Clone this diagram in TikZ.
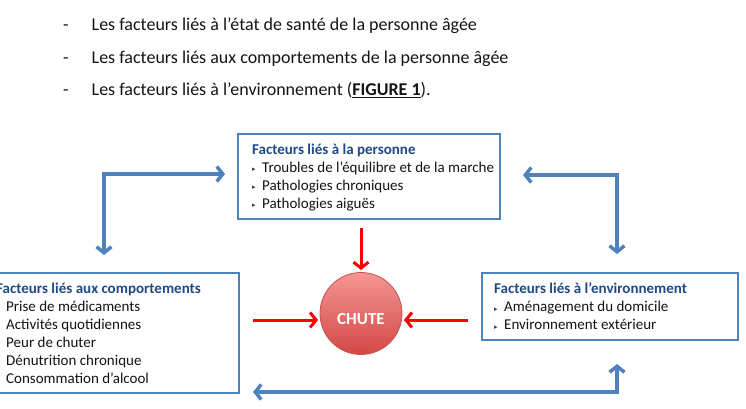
\documentclass[tikz,border=0pt]{standalone}
\usepackage{fontspec}
\setmainfont{Carlito}
\newfontfamily\dejavu{DejaVu Sans}
\usetikzlibrary{arrows.meta}
\definecolor{boxblue}{RGB}{79,129,189}
\definecolor{titleblue}{RGB}{31,73,135}
\definecolor{txt}{RGB}{20,20,20}
\definecolor{bulgray}{RGB}{60,60,60}
\definecolor{arrred}{RGB}{255,0,0}
\definecolor{ctop}{RGB}{244,150,148}
\definecolor{cbot}{RGB}{210,72,70}
\definecolor{cedge}{RGB}{200,80,77}
\newcommand\bul{\makebox[10pt][l]{\raisebox{0.5pt}{\dejavu\fontsize{7}{7}\selectfont\color{bulgray}▸}}}
\begin{document}
\begin{tikzpicture}[x=1pt,y=-1pt,
  fbox/.style={draw=boxblue, line width=1.5pt, fill=white, inner sep=0pt},
  ftitle/.style={anchor=base west, inner sep=0pt, font=\fontsize{15}{17}\selectfont\bfseries, text=titleblue},
  fitem/.style={anchor=base west, inner sep=0pt, font=\fontsize{15}{17}\selectfont, text=txt},
  body/.style={anchor=base west, inner sep=0pt, font=\fontsize{18}{21}\selectfont, text=txt},
  barrow/.style={draw=boxblue, line width=3.5pt, line join=miter,
     {Straight Barb[length=6pt,width=15pt]}-{Straight Barb[length=6pt,width=15pt]}},
  rarrow/.style={draw=arrred, line width=3pt, -{Straight Barb[length=6pt,width=15pt]}}]
\useasboundingbox (0,0) rectangle (746,409);

% intro lines
\node[body] (d1) at (63,30.7) {-};
\node[body] (t1) at (91.5,30.7) {Les facteurs liés à l’état de santé de la personne âgée};
\node[body] (d2) at (63,63.3) {-};
\node[body] (t2) at (91.5,63.3) {Les facteurs liés aux comportements de la personne âgée};
\node[body] (d3) at (63,95.7) {-};
\node[body] (t3) at (91.5,95.7) {Les facteurs liés à l’environnement (\textbf{\underline{FIGURE 1}}).};

% boxes
\node[fbox, minimum width=262pt, minimum height=85pt] (pers) at (369,176.5) {};
\node[fbox, minimum width=256pt, minimum height=120pt] (comp) at (111,333) {};
\node[fbox, minimum width=256pt, minimum height=67pt] (envi) at (610,306.5) {};

% top box text
\node[ftitle] (pt) at (252,154.3) {Facteurs liés à la personne};
\node[fitem] (p1) at (252,172.3) {\bul Troubles de l’équilibre et de la marche};
\node[fitem] (p2) at (252,190.3) {\bul Pathologies chroniques};
\node[fitem] (p3) at (252,208.3) {\bul Pathologies aiguës};

% left box text
\node[ftitle] (ct) at (-4,293.3) {Facteurs liés aux comportements};
\node[fitem] (c1) at (-4,311.7) {\bul Prise de médicaments};
\node[fitem] (c2) at (-4,329.7) {\bul Activités quotidiennes};
\node[fitem] (c3) at (-4,347.7) {\bul Peur de chuter};
\node[fitem] (c4) at (-4,365.7) {\bul Dénutrition chronique};
\node[fitem] (c5) at (-4,383.7) {\bul Consommation d’alcool};

% right box text
\node[ftitle] (et) at (494,293.3) {Facteurs liés à l’environnement};
\node[fitem] (e1) at (494,311.7) {\bul Aménagement du domicile};
\node[fitem] (e2) at (494,329.7) {\bul Environnement extérieur};

% central circle
\node[circle, minimum size=82pt, inner sep=0pt, draw=cedge, line width=0.8pt,
      top color=ctop, bottom color=cbot] (chute) at (361,313.5) {};
\node[inner sep=0pt, text=white, font=\fontsize{17}{17}\selectfont\bfseries] (chutelbl) at (361,318.5) {CHUTE};

% red arrows
\coordinate (rtop) at (361,228);
\coordinate (rtopend) at (361,270);
\coordinate (rleft) at (253,320);
\coordinate (rleftend) at (318,320);
\coordinate (rright) at (468,320);
\coordinate (rrightend) at (404,320);
\draw[rarrow] (rtop) -- (rtopend);
\draw[rarrow] (rleft) -- (rleftend);
\draw[rarrow] (rright) -- (rrightend);

% blue arrows
\coordinate (b1a) at (225,174);
\coordinate (b1c) at (104,174);
\coordinate (b1b) at (104,255);
\draw[barrow] (b1a) -- (b1c) -- (b1b);
\coordinate (b2a) at (523,175);
\coordinate (b2c) at (617,175);
\coordinate (b2b) at (617,254);
\draw[barrow] (b2a) -- (b2c) -- (b2b);
\coordinate (b3a) at (253,392);
\coordinate (b3c) at (617,392);
\coordinate (b3b) at (617,364);
\draw[barrow] (b3a) -- (b3c) -- (b3b);
\end{tikzpicture}
\end{document}
